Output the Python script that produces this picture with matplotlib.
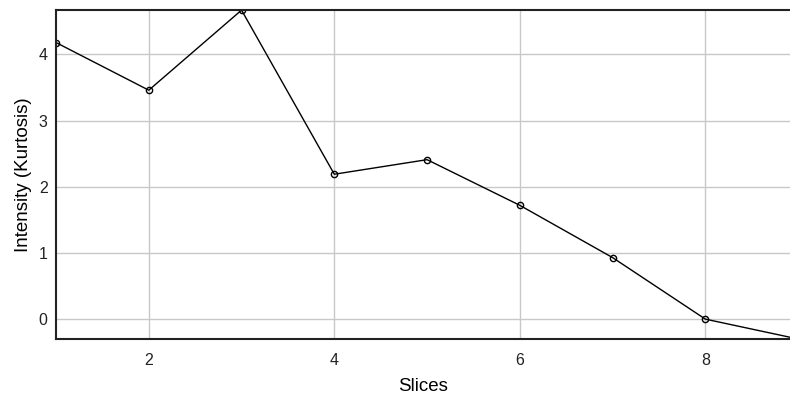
import numpy as np
import matplotlib.pyplot as plt

plt.rcParams['font.family'] = ['Liberation Sans', 'DejaVu Sans']

slices = [1, 2, 3, 4, 5, 6, 7, 8, 9]
kurtosis = [4.18, 3.46, 4.67, 2.19, 2.41, 1.72, 0.93, 0.0, -0.3]

fig = plt.figure(figsize=(7.9, 4.05), dpi=100)
ax = fig.add_axes([0.0709, 0.163, 0.93, 0.812])

ax.plot(slices, kurtosis, color='black', linewidth=1.0, marker='o',
        markersize=4.5, markerfacecolor='none', markeredgecolor='black',
        markeredgewidth=1.0, clip_on=True)

ax.set_xlim(1, 8.92)
ax.set_ylim(-0.3, 4.67)
ax.set_xticks([2, 4, 6, 8])
ax.set_yticks([0, 1, 2, 3, 4])
ax.grid(True, color='#c8c8c8', linewidth=1.0)
ax.set_axisbelow(True)
ax.tick_params(length=0, labelsize=11.5, colors='#222222')
ax.tick_params(axis='x', pad=10)
ax.tick_params(axis='y', pad=6)

for s in ['left', 'bottom', 'top']:
    ax.spines[s].set_linewidth(1.5)
    ax.spines[s].set_color('#222222')
ax.spines['right'].set_visible(False)

ax.set_xlabel('Slices', fontsize=13.5, labelpad=7)
ax.set_ylabel('Intensity (Kurtosis)', fontsize=13.5, labelpad=5)

fig.savefig('out.png', dpi=100)
